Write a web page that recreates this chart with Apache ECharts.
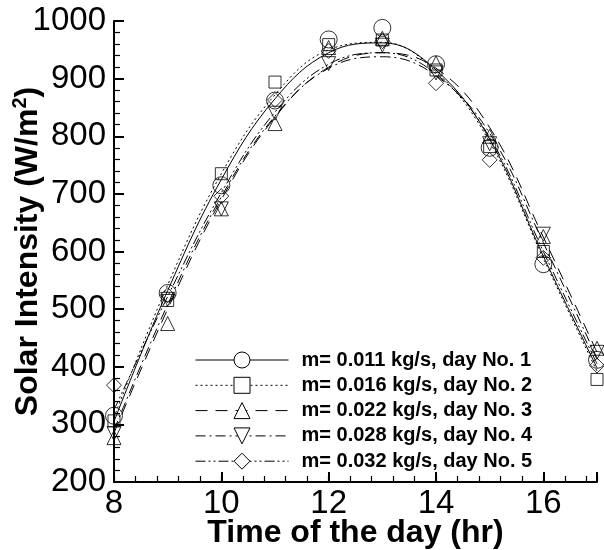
<!DOCTYPE html>
<html>
<head>
<meta charset="utf-8">
<script src="https://cdn.jsdelivr.net/npm/echarts@6/dist/echarts.min.js"></script>
<style>
  html, body { margin: 0; padding: 0; background: #fff; }
  #chart { width: 604px; height: 550px; }
</style>
</head>
<body>
<div id="chart"></div>
<script>
var hours = [8, 9, 10, 11, 12, 13, 14, 15, 16, 17];
var names = [
    'm= 0.011 kg/s, day No. 1',
    'm= 0.016 kg/s, day No. 2',
    'm= 0.022 kg/s, day No. 3',
    'm= 0.028 kg/s, day No. 4',
    'm= 0.032 kg/s, day No. 5'
];
// measured points (markers)
var meas1 = [315, 528, 715, 862, 968, 988, 925, 780, 578, 412];
var meas2 = [306, 515, 735, 894, 959, 967, 915, 782, 600, 378];
var meas3 = [277, 475, 674, 822, 954, 970, 927, 800, 626, 432];
var meas4 = [284, 517, 674, 840, 926, 958, 910, 787, 630, 425];
var meas5 = [368, 524, 696, 863, 948, 965, 892, 759, 589, 402];
// fitted curves at each hour
var fit1 = [305, 532, 725, 865, 945, 962, 915, 795, 592, 398];
var fit2 = [312, 542, 735, 872, 950, 963, 912, 790, 588, 392];
var fit3 = [285, 500, 690, 833, 920, 945, 918, 815, 625, 425];
var fit4 = [290, 508, 695, 835, 918, 938, 905, 805, 615, 415];
var fit5 = [325, 522, 702, 842, 925, 945, 908, 798, 600, 405];
var xMajor = [8, 10, 12, 14, 16];

var meas = [meas1, meas2, meas3, meas4, meas5];
var fits = [fit1, fit2, fit3, fit4, fit5];
var symbols = ['circle', 'rect', 'triangle', 'triangle', 'diamond'];
var symbolSizes = [17, 12, 14, 14, 15];
var rotations = [0, 0, 0, 180, 0];
var dashes = ['solid', [2, 3], [12, 8], [10, 4, 2, 4], [10, 3, 2, 3, 2, 3]];

var font = 'Liberation Sans, Arial, sans-serif';

function pairs(xs, ys) {
    return xs.map(function (x, i) { return [x, ys[i]]; });
}

var series = [];
for (var i = 0; i < 5; i++) {
    series.push({
        name: names[i],
        type: 'line',
        data: pairs(hours, fits[i]),
        smooth: 0.4,
        showSymbol: false,
        symbol: symbols[i],
        symbolRotate: rotations[i],
        lineStyle: { color: '#000', width: 1, type: dashes[i] },
        itemStyle: { color: '#fff', borderColor: '#000', borderWidth: 1 },
        z: 2
    });
}
for (var j = 0; j < 5; j++) {
    series.push({
        name: names[j],
        type: 'scatter',
        data: pairs(hours, meas[j]),
        symbol: symbols[j],
        symbolSize: symbolSizes[j],
        symbolRotate: rotations[j],
        itemStyle: { color: 'rgba(255,255,255,0)', borderColor: '#000', borderWidth: 1 },
        z: 3
    });
}

var chart = echarts.init(document.getElementById('chart'));
chart.setOption({
    animation: false,
    backgroundColor: '#fff',
    grid: { left: 114, right: 7, top: 21, bottom: 68, containLabel: false, outerBoundsMode: 'none' },
    legend: {
        orient: 'vertical',
        left: 190,
        top: 345,
        itemWidth: 93,
        itemHeight: 20,
        itemGap: 5.3,
        data: names,
        itemStyle: { color: '#fff', borderColor: '#000', borderWidth: 1 },
        lineStyle: { color: '#000', width: 1 },
        textStyle: {
            fontFamily: font, fontSize: 20, fontWeight: 'bold', color: '#000',
            padding: [0, 0, 0, 8]
        }
    },
    xAxis: [{
        type: 'value',
        min: 8,
        max: 17,
        interval: 2,
        z: 10,
        name: 'Time of the day (hr)',
        nameLocation: 'middle',
        nameGap: 35,
        nameMoveOverlap: false,
        nameTextStyle: { fontFamily: font, fontSize: 32, fontWeight: 'bold', color: '#000' },
        axisLine: { show: true, lineStyle: { color: '#000', width: 2 } },
        axisTick: { show: true, inside: true, length: 10, lineStyle: { color: '#000', width: 2 } },
        axisLabel: { customValues: xMajor, fontFamily: font, fontSize: 33, color: '#000', margin: 5 },
        splitLine: { show: false }
    }, {
        // minor ticks every 0.4 h
        type: 'value',
        min: 8,
        max: 17,
        interval: 0.4,
        z: 10,
        position: 'bottom',
        axisLine: { show: false },
        axisTick: { show: true, inside: true, length: 6, lineStyle: { color: '#000', width: 1.2 } },
        axisLabel: { show: false },
        splitLine: { show: false }
    }],
    yAxis: {
        type: 'value',
        min: 200,
        max: 1000,
        interval: 100,
        z: 10,
        name: '{t|Solar Intensity (W/m}{s|2}{t|)}',
        nameLocation: 'middle',
        nameGap: 68,
        nameMoveOverlap: false,
        nameTextStyle: {
            rich: {
                t: { fontFamily: font, fontSize: 32, fontWeight: 'bold', color: '#000', lineHeight: 36 },
                s: { fontFamily: font, fontSize: 20, fontWeight: 'bold', color: '#000', lineHeight: 36, verticalAlign: 'top' }
            }
        },
        axisLine: { show: true, lineStyle: { color: '#000', width: 2 } },
        axisTick: { show: true, inside: true, length: 10, lineStyle: { color: '#000', width: 2 } },
        minorTick: { show: true, splitNumber: 5, length: 6, lineStyle: { color: '#000', width: 1.2 } },
        axisLabel: {
            fontFamily: font, fontSize: 33, color: '#000', margin: 8,
            formatter: function (v) { return String(v); }
        },
        splitLine: { show: false },
        minorSplitLine: { show: false }
    },
    series: series
});
</script>
</body>
</html>
